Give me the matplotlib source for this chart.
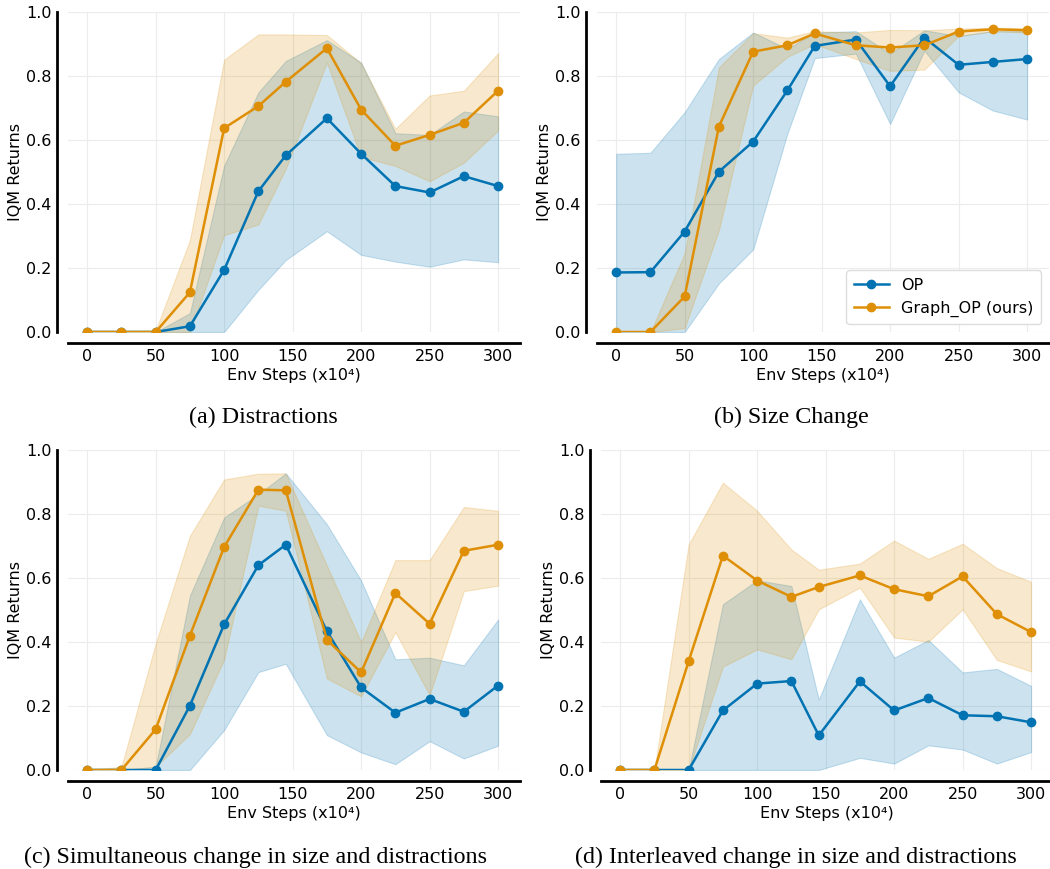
import matplotlib
matplotlib.use("Agg")
import matplotlib.pyplot as plt
import numpy as np

steps = [0, 25, 50, 75, 100, 125, 145, 175, 200, 225, 250, 275, 300]

# (a) Distractions
a_op_mean = [0, 0, 0, 0.018, 0.194, 0.44, 0.552, 0.668, 0.557, 0.456, 0.436, 0.487, 0.456]
a_op_low = [0, 0, 0, 0, 0, 0.132, 0.225, 0.315, 0.241, 0.22, 0.204, 0.227, 0.218]
a_op_high = [0, 0, 0, 0.059, 0.52, 0.749, 0.847, 0.912, 0.842, 0.621, 0.616, 0.689, 0.674]
a_g_mean = [0, 0, 0, 0.124, 0.637, 0.706, 0.782, 0.887, 0.695, 0.582, 0.616, 0.654, 0.754]
a_g_low = [0, 0, 0, 0, 0.303, 0.336, 0.51, 0.842, 0.547, 0.519, 0.471, 0.529, 0.63]
a_g_high = [0, 0, 0.005, 0.287, 0.851, 0.93, 0.93, 0.928, 0.84, 0.635, 0.739, 0.754, 0.871]

# (b) Size Change
b_op_mean = [0.186, 0.187, 0.314, 0.501, 0.595, 0.755, 0.894, 0.914, 0.768, 0.92, 0.835, 0.844, 0.853]
b_op_low = [0, 0, 0, 0.152, 0.258, 0.62, 0.856, 0.87, 0.65, 0.879, 0.749, 0.692, 0.664]
b_op_high = [0.557, 0.56, 0.687, 0.853, 0.936, 0.885, 0.936, 0.94, 0.87, 0.943, 0.925, 0.94, 0.94]
b_g_mean = [0, 0, 0.111, 0.642, 0.876, 0.896, 0.933, 0.896, 0.889, 0.896, 0.939, 0.946, 0.943]
b_g_low = [0, 0, 0.012, 0.318, 0.77, 0.86, 0.9, 0.853, 0.816, 0.82, 0.925, 0.94, 0.936]
b_g_high = [0, 0, 0.246, 0.827, 0.934, 0.92, 0.94, 0.936, 0.944, 0.943, 0.948, 0.951, 0.949]

# (c) Simultaneous change
c_op_mean = [0, 0, 0, 0.201, 0.455, 0.64, 0.704, 0.434, 0.258, 0.179, 0.222, 0.182, 0.264]
c_op_low = [0, 0, 0, 0, 0.125, 0.306, 0.332, 0.109, 0.055, 0.018, 0.09, 0.036, 0.076]
c_op_high = [0, 0, 0.01, 0.545, 0.789, 0.862, 0.927, 0.768, 0.592, 0.346, 0.351, 0.327, 0.47]
c_g_mean = [0, 0, 0.127, 0.42, 0.697, 0.876, 0.874, 0.407, 0.305, 0.553, 0.457, 0.685, 0.704]
c_g_low = [0, 0, 0.01, 0.112, 0.345, 0.826, 0.81, 0.286, 0.23, 0.431, 0.234, 0.559, 0.576]
c_g_high = [0, 0.01, 0.395, 0.732, 0.908, 0.926, 0.927, 0.639, 0.4, 0.656, 0.656, 0.822, 0.81]

# (d) Interleaved change
d_op_mean = [0, 0, 0, 0.186, 0.27, 0.278, 0.108, 0.277, 0.186, 0.225, 0.171, 0.168, 0.149]
d_op_low = [0, 0, 0, 0, 0, 0, 0, 0.038, 0.02, 0.077, 0.064, 0.02, 0.056]
d_op_high = [0, 0, 0, 0.518, 0.593, 0.575, 0.22, 0.533, 0.351, 0.406, 0.305, 0.316, 0.263]
d_g_mean = [0, 0, 0.34, 0.67, 0.592, 0.541, 0.572, 0.608, 0.565, 0.543, 0.605, 0.487, 0.431]
d_g_low = [0, 0, 0, 0.323, 0.377, 0.346, 0.502, 0.57, 0.414, 0.401, 0.502, 0.344, 0.308]
d_g_high = [0, 0, 0.705, 0.898, 0.81, 0.689, 0.626, 0.645, 0.717, 0.66, 0.707, 0.631, 0.588]

captions = ["(a) Distractions", "(b) Size Change",
            "(c) Simultaneous change in size and distractions",
            "(d) Interleaved change in size and distractions"]
xticks = [0, 50, 100, 150, 200, 250, 300]
yticks = [0.0, 0.2, 0.4, 0.6, 0.8, 1.0]

BLUE = "#0173b2"
ORANGE = "#de8f05"

W, H = 1050, 869
fig = plt.figure(figsize=(W / 100, H / 100), dpi=100)

# axes rectangles in pixels: left, top, width, height
rects = [(68, 12, 452, 320), (597, 12, 452, 320),
         (68, 450, 452, 320), (601, 450, 452, 320)]
panels = [
    (a_op_mean, a_op_low, a_op_high, a_g_mean, a_g_low, a_g_high),
    (b_op_mean, b_op_low, b_op_high, b_g_mean, b_g_low, b_g_high),
    (c_op_mean, c_op_low, c_op_high, c_g_mean, c_g_low, c_g_high),
    (d_op_mean, d_op_low, d_op_high, d_g_mean, d_g_low, d_g_high),
]
cap_pos = [(263, 417), (791, 417), (255, 857), (796, 857)]

for i, (rect, data) in enumerate(zip(rects, panels)):
    l, t, w, h = rect
    ax = fig.add_axes([l / W, 1 - (t + h) / H, w / W, h / H])
    op_m, op_l, op_h, g_m, g_l, g_h = data
    ax.fill_between(steps, op_l, op_h, color=BLUE, alpha=0.2, linewidth=0.8)
    ax.fill_between(steps, g_l, g_h, color=ORANGE, alpha=0.2, linewidth=0.8)
    ax.plot(steps, op_m, color=BLUE, lw=1.8, marker="o", ms=6, label="OP", zorder=3)
    ax.plot(steps, g_m, color=ORANGE, lw=1.8, marker="o", ms=6,
            label="Graph_OP (ours)", zorder=4)
    ax.set_xlim(-14, 316)
    ax.set_ylim(0, 1.0)
    ax.set_xticks(xticks)
    ax.set_yticks(yticks)
    ax.set_yticklabels([f"{v:.1f}" for v in yticks])
    ax.grid(True, color="#ececec", linewidth=0.8)
    ax.set_axisbelow(True)
    for s in ["top", "right"]:
        ax.spines[s].set_visible(False)
    for s in ["left", "bottom"]:
        ax.spines[s].set_position(("outward", 8))
        ax.spines[s].set_linewidth(2.0)
        ax.spines[s].set_color("black")
    ax.tick_params(length=0, labelsize=11.5, pad=4)
    ax.set_xlabel("Env Steps (x10⁴)", fontsize=11.5, labelpad=3)
    ax.set_ylabel("IQM Returns", fontsize=11.5, labelpad=2)
    if i == 1:
        ax.legend(loc="lower right", fontsize=11.5, frameon=True,
                  fancybox=True, framealpha=1.0, edgecolor="#dddddd",
                  borderpad=0.45, handlelength=2.2)
    fig.text(cap_pos[i][0] / W, 1 - cap_pos[i][1] / H, captions[i],
             ha="center", va="center", fontsize=17.3, family="Liberation Serif")

fig.savefig("out.png", dpi=100)
